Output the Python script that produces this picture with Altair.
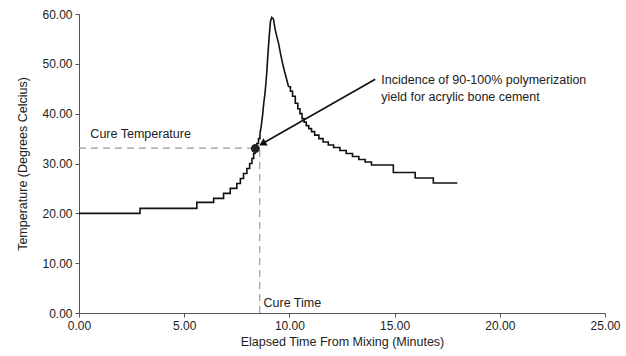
import altair as alt
import pandas as pd

# Curve data (elapsed minutes, temperature)
times = [0.00, 2.90, 5.60, 6.40, 6.87, 7.19, 7.50, 7.67, 7.82, 7.98, 8.11, 8.22, 8.30,
         8.37, 8.45, 8.53, 8.60, 8.66, 8.72, 8.78, 8.85, 8.92, 8.98, 9.04, 9.10, 9.16,
         9.24, 9.32, 9.40, 9.49, 9.58, 9.68, 9.78, 9.88, 9.96, 10.05, 10.15, 10.28,
         10.40, 10.50, 10.60, 10.70, 10.80, 10.92, 11.05, 11.20, 11.40, 11.60, 11.85,
         12.10, 12.40, 12.70, 13.00, 13.30, 13.60, 13.90, 14.94, 15.98, 16.84, 17.98]
temps = [20.0, 21.0, 22.2, 23.0, 24.0, 25.0, 26.0, 27.0, 28.0, 29.0, 30.0, 31.0, 32.0,
         33.0, 34.0, 35.0, 36.0, 37.5, 39.5, 42.0, 44.5, 48.0, 52.0, 55.5, 58.5, 59.3,
         59.0, 57.0, 55.5, 54.0, 52.0, 50.0, 48.3, 46.7, 45.4, 44.5, 43.5, 42.1,
         41.0, 40.0, 39.0, 38.3, 37.6, 37.0, 36.4, 35.7, 35.0, 34.3, 33.7,
         33.2, 32.6, 32.0, 31.4, 30.8, 30.3, 29.7, 28.2, 27.1, 26.1, 26.1]
# the exotherm peak (between these times) is drawn as a continuous line, the rest as stairs
peak_start, peak_end = 8.60, 9.96

cure_time = 8.59
cure_temp = 33.1
circle_pt = [8.38, 33.0]
arrow_head = [8.72, 34.0]
arrow_tail = [14.08, 46.9]

x_ticks = [0, 5, 10, 15, 20, 25]
y_ticks = [0, 10, 20, 30, 40, 50, 60]

FONT = "Liberation Sans"

curve_df = pd.DataFrame({"t": times, "temp": temps})
rise_df = curve_df[curve_df.t <= peak_start]
peak_df = curve_df[(curve_df.t >= peak_start) & (curve_df.t <= peak_end)]
fall_df = curve_df[curve_df.t >= peak_end]

x_scale = alt.Scale(domain=[0, 25], nice=False)
y_scale = alt.Scale(domain=[0, 60], nice=False)

x_axis = alt.Axis(values=x_ticks, format=".2f", title="Elapsed Time From Mixing (Minutes)",
                  grid=False, tickSize=4, labelFontSize=12, titleFontSize=12.5,
                  labelFont=FONT, titleFont=FONT, labelColor="#222", titleColor="#222",
                  titleFontWeight="normal", domainColor="#555", tickColor="#555",
                  labelPadding=3, titlePadding=4, labelFlush=False)
y_axis = alt.Axis(values=y_ticks, format=".2f", title="Temperature (Degrees Celcius)",
                  grid=False, tickSize=4, labelFontSize=12, titleFontSize=12.5,
                  labelFont=FONT, titleFont=FONT, labelColor="#222", titleColor="#222",
                  titleFontWeight="normal", domainColor="#555", tickColor="#555",
                  labelPadding=3, titlePadding=12, labelFlush=False)

X = lambda f: alt.X(f, scale=x_scale, axis=x_axis)
Y = lambda f: alt.Y(f, scale=y_scale, axis=y_axis)


def curve_layer(df, interp):
    return alt.Chart(df).mark_line(interpolate=interp, color="#111", strokeWidth=1.6).encode(
        x=X("t:Q"), y=Y("temp:Q"))


rise = curve_layer(rise_df, "step-after")
peak = curve_layer(peak_df, "linear")
fall = curve_layer(fall_df, "step-after")

hline = alt.Chart(pd.DataFrame({"x": [0], "x2": [cure_time], "y": [cure_temp]})).mark_rule(
    color="#999", strokeDash=[7, 5], strokeWidth=1.2).encode(
    x=X("x:Q"), x2="x2:Q", y=Y("y:Q"))

vline = alt.Chart(pd.DataFrame({"x": [cure_time], "y": [0], "y2": [cure_temp]})).mark_rule(
    color="#999", strokeDash=[7, 5], strokeWidth=1.2).encode(
    x=X("x:Q"), y=Y("y:Q"), y2="y2:Q")

arrow_line = alt.Chart(pd.DataFrame({"x": [arrow_head[0]], "x2": [arrow_tail[0]],
                                     "y": [arrow_head[1]], "y2": [arrow_tail[1]]})).mark_rule(
    color="#111", strokeWidth=1.6).encode(
    x=X("x:Q"), x2="x2:Q", y=Y("y:Q"), y2="y2:Q")

circle = alt.Chart(pd.DataFrame({"x": [circle_pt[0]], "y": [circle_pt[1]]})).mark_point(
    shape="circle", filled=True, size=80, color="#222", opacity=1).encode(
    x=X("x:Q"), y=Y("y:Q"))

tri = alt.Chart(pd.DataFrame({"x": [arrow_head[0]], "y": [arrow_head[1]]})).mark_point(
    shape="triangle-up", filled=True, size=70, color="#111", opacity=1, angle=240).encode(
    x=X("x:Q"), y=Y("y:Q"))

labels_df = pd.DataFrame({
    "x": [0.54, 8.77, 14.37, 14.37],
    "y": [35.9, 2.1, 46.7, 43.4],
    "text": ["Cure Temperature", "Cure Time", "Incidence of 90-100% polymerization",
             "yield for acrylic bone cement"],
})
texts = alt.Chart(labels_df).mark_text(align="left", baseline="middle", fontSize=12.5,
                                       font=FONT, color="#222").encode(
    x=X("x:Q"), y=Y("y:Q"), text="text:N")

chart = alt.layer(rise, hline, vline, peak, fall, arrow_line, circle, tri, texts).properties(
    width=526, height=299,
    padding={"left": 79, "top": 14, "right": 21, "bottom": 43},
    autosize=alt.AutoSizeParams(type="none"),
    background="white",
).configure_view(stroke=None)

chart.save("out.html", embed_options={"renderer": "svg", "actions": False})
